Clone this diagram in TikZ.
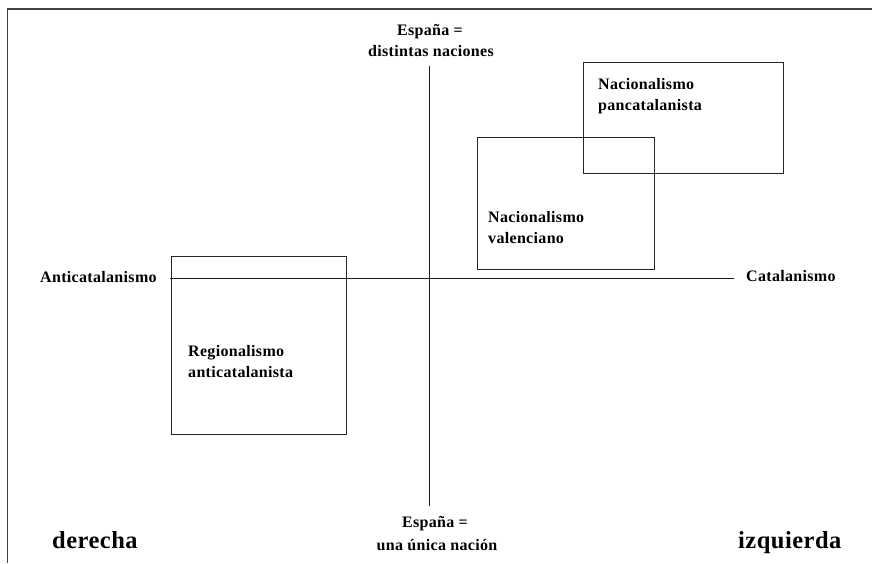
\documentclass[tikz,border=0pt]{standalone}
\usepackage{fontspec}
\setmainfont{Liberation Serif}[LetterSpace=2]
\begin{document}
\begin{tikzpicture}[x=1pt,y=-1pt,
  lbl/.style={inner sep=0pt, font=\fontsize{16}{21}\selectfont\bfseries},
  big/.style={inner sep=0pt, font=\fontsize{24.5}{28}\selectfont\bfseries},
  axis/.style={line width=0.95pt, draw=black!90},
  area/.style={line width=0.95pt, draw=black!85},
  frame/.style={line width=1.7pt, draw=black!75}]
\useasboundingbox (0,0) rectangle (872,563);
% frame (top and left edges)
\coordinate (ftr) at (872,9);
\coordinate (ftl) at (7.5,9);
\coordinate (fbl) at (7.5,563);
\draw[frame] (ftr) -- (ftl) -- (fbl);
% axes
\coordinate (xl) at (170,278);
\coordinate (xr) at (734,278);
\coordinate (yt) at (429,66);
\coordinate (yb) at (429,506);
\draw[axis] (xl) -- (xr);
\draw[axis] (yt) -- (yb);
% boxes
\draw[area] (171,256) rectangle (346,434);
\draw[area] (477,137) rectangle (654,269);
\draw[area] (583,62) rectangle (783,173);
% axis labels
\node[lbl, anchor=base] (t1) at (430,35) {España =};
\node[lbl, anchor=base] (t2) at (431,56) {distintas naciones};
\node[lbl, anchor=base] (b1) at (435,527) {España =};
\node[lbl, anchor=base] (b2) at (437,550) {una única nación};
\node[lbl, anchor=base west] (anti) at (40,282) {Anticatalanismo};
\node[lbl, anchor=base west] (cat) at (746,281) {Catalanismo};
% box labels
\node[lbl, anchor=base west] (p1) at (598,89) {Nacionalismo};
\node[lbl, anchor=base west] (p2) at (598,110) {pancatalanista};
\node[lbl, anchor=base west] (v1) at (488,222) {Nacionalismo};
\node[lbl, anchor=base west] (v2) at (488,243) {valenciano};
\node[lbl, anchor=base west] (r1) at (188,356) {Regionalismo};
\node[lbl, anchor=base west] (r2) at (188,377) {anticatalanista};
% corner labels
\node[big, anchor=base west] (der) at (52,548) {derecha};
\node[big, anchor=base west] (izq) at (738,548) {izquierda};
\end{tikzpicture}
\end{document}
